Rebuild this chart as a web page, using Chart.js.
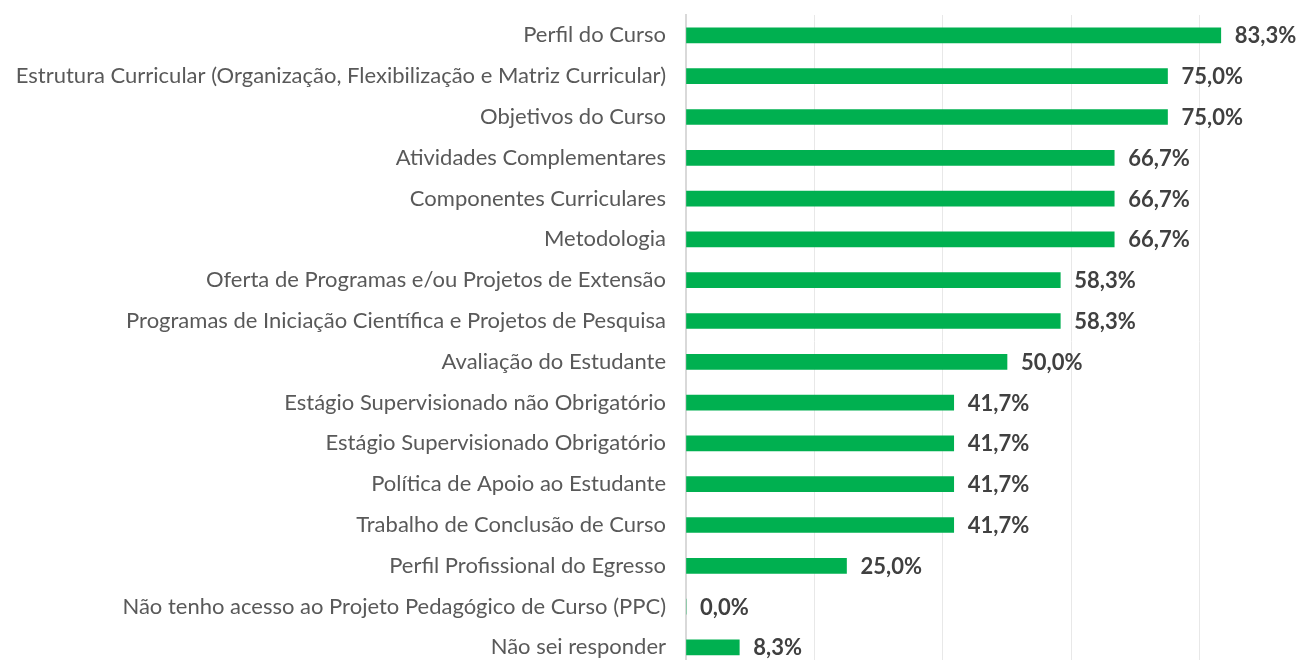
<!DOCTYPE html>
<html>
<head>
<meta charset="utf-8">
<script src="https://cdn.jsdelivr.net/npm/chart.js@4"></script>
<style>
    html, body { margin: 0; padding: 0; background: #fff; overflow: hidden; }
    #wrap { position: relative; width: 1330px; height: 681px; }
</style>
</head>
<body>
<div id="wrap"><canvas id="barChart"></canvas></div>
<script>
// Categories and percentages, top to bottom
const categories = [
    'Perfil do Curso',
    'Estrutura Curricular (Organização, Flexibilização e Matriz Curricular)',
    'Objetivos do Curso',
    'Atividades Complementares',
    'Componentes Curriculares',
    'Metodologia',
    'Oferta de Programas e/ou Projetos de Extensão',
    'Programas de Iniciação Científica e Projetos de Pesquisa',
    'Avaliação do Estudante',
    'Estágio Supervisionado não Obrigatório',
    'Estágio Supervisionado Obrigatório',
    'Política de Apoio ao Estudante',
    'Trabalho de Conclusão de Curso',
    'Perfil Profissional do Egresso',
    'Não tenho acesso ao Projeto Pedagógico de Curso (PPC)',
    'Não sei responder'
];
const values = [83.3, 75.0, 75.0, 66.7, 66.7, 66.7, 58.3, 58.3, 50.0, 41.7, 41.7, 41.7, 41.7, 25.0, 0.0, 8.3];

const FONT = 'Lato';

// value labels to the right of each bar
const valueLabels = {
    id: 'valueLabels',
    afterDatasetsDraw(chart) {
        const ctx = chart.ctx;
        const meta = chart.getDatasetMeta(0);
        ctx.save();
        ctx.font = 'bold 22px ' + FONT;
        ctx.fillStyle = '#404040';
        ctx.textAlign = 'left';
        ctx.textBaseline = 'middle';
        meta.data.forEach((bar, i) => {
            ctx.fillText(values[i].toFixed(1).replace('.', ',') + '%', bar.x + 14, bar.y + 1);
        });
        ctx.restore();
    }
};

new Chart(document.getElementById('barChart'), {
    type: 'bar',
    data: {
        labels: categories,
        datasets: [{
            data: values,
            backgroundColor: '#00B050',
            barThickness: 15,
        }]
    },
    options: {
        indexAxis: 'y',
        responsive: true,
        maintainAspectRatio: false,
        animation: false,
        layout: { padding: { top: 15, right: 2, bottom: 12, left: 0 } },
        plugins: { legend: { display: false }, tooltip: { enabled: false } },
        scales: {
            x: {
                min: 0, max: 100,
                afterFit(scale) { scale.height = 0; },
                ticks: { display: false, stepSize: 20 },
                grid: { color: '#e8e8e8', drawTicks: false },
                border: { display: false }
            },
            y: {
                afterFit(scale) { scale.width = 686; },
                ticks: { color: '#595959', padding: 0, font: { family: FONT, size: 22 } },
                grid: { display: false, drawTicks: true, tickLength: 20 },
                border: { color: '#d9d9d9', width: 2 }
            }
        }
    },
    plugins: [valueLabels]
});
</script>
</body>
</html>
